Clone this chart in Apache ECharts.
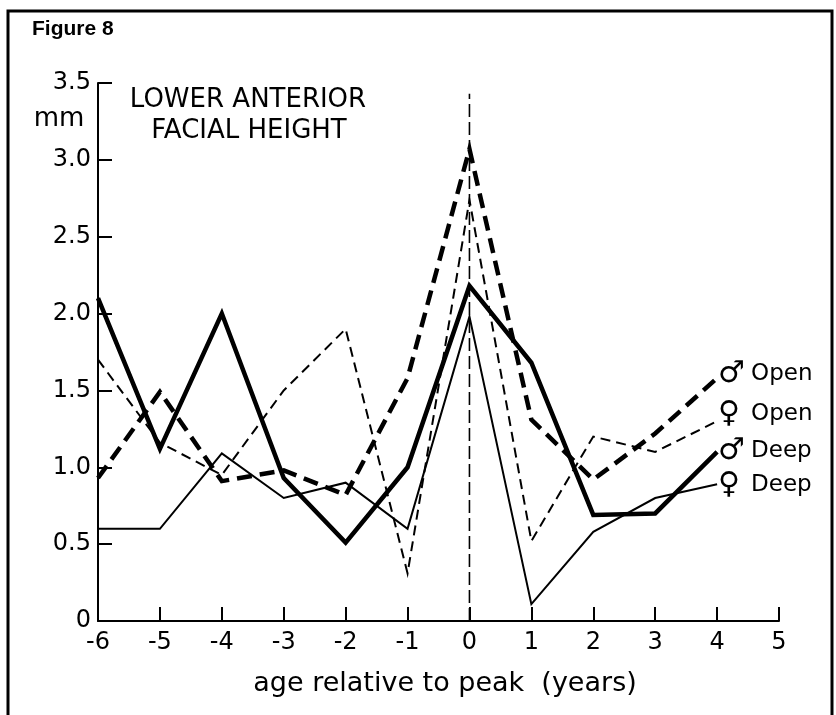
<!DOCTYPE html>
<html><head><meta charset="utf-8">
<script src="https://cdn.jsdelivr.net/npm/echarts@6/dist/echarts.min.js"></script>
<style>html,body{margin:0;padding:0;background:#fff}#c{width:836px;height:715px}</style>
</head><body><div id="c"></div>
<script>
// ---- data ----
const years = [-6, -5, -4, -3, -2, -1, 0, 1, 2, 3, 4];
const maleOpen   = [0.93, 1.49, 0.91, 0.98, 0.82, 1.58, 3.07, 1.31, 0.92, 1.22, 1.58];
const femaleOpen = [1.70, 1.16, 0.95, 1.50, 1.90, 0.31, 2.74, 0.52, 1.20, 1.10, 1.30];
const maleDeep   = [2.10, 1.12, 2.00, 0.93, 0.51, 1.00, 2.18, 1.68, 0.69, 0.70, 1.10];
const femaleDeep = [0.60, 0.60, 1.09, 0.80, 0.90, 0.60, 1.98, 0.11, 0.58, 0.80, 0.89];
const peakX = [0, 0];
const peakY = [0, 3.43];
const seriesLabels = [
  {sym: '\u2642', txt: 'Open', dy: -4},
  {sym: '\u2640', txt: 'Open', dy: -7},
  {sym: '\u2642', txt: 'Deep', dy: -1},
  {sym: '\u2640', txt: 'Deep', dy: 1}
];
const titleLines = ['LOWER ANTERIOR', 'FACIAL HEIGHT'];
const xTitle = 'age relative to peak  (years)';
const yUnit = 'mm';
const figLabel = 'Figure 8';

const F = '"DejaVu Sans", sans-serif';
const pairs = arr => years.map((x, i) => [x, arr[i]]);

const chart = echarts.init(document.getElementById('c'), null, {renderer: 'canvas'});

function mkLine(data, width, dash) {
  return {
    type: 'line', data: data, symbol: 'none', animation: false, silent: true,
    lineStyle: {color: '#000', width: width, type: dash || 'solid', cap: 'butt', join: 'miter'},
    z: 3
  };
}

const option = {
  backgroundColor: '#fff',
  animation: false,
  grid: {left: 98, right: 57, top: 83, bottom: 94, containLabel: false},
  xAxis: {
    type: 'value', min: -6, max: 5, interval: 1,
    axisLine: {show: true, onZero: false, lineStyle: {color: '#000', width: 2}},
    axisTick: {show: true, inside: true, length: 14, lineStyle: {color: '#000', width: 2}},
    axisLabel: {color: '#000', fontFamily: F, fontSize: 24, margin: 10,
      formatter: v => String(v)},
    splitLine: {show: false}
  },
  yAxis: {
    type: 'value', min: 0, max: 3.5, interval: 0.5,
    axisLine: {show: true, onZero: false, lineStyle: {color: '#000', width: 2}},
    axisTick: {show: true, inside: true, length: 14, lineStyle: {color: '#000', width: 2}},
    axisLabel: {color: '#000', fontFamily: F, fontSize: 24, margin: 7,
      formatter: v => v === 0 ? '0' : v.toFixed(1)},
    splitLine: {show: false}
  },
  series: [
    mkLine(peakX.map((x, i) => [x, peakY[i]]), 1.6, [13, 5]),
    mkLine(pairs(femaleDeep), 2, 'solid'),
    mkLine(pairs(femaleOpen), 2, [10, 6]),
    mkLine(pairs(maleDeep), 4.5, 'solid'),
    mkLine(pairs(maleOpen), 4.5, [15, 8])
  ],
  graphic: [
    {type: 'rect', shape: {x: 8, y: 11, width: 824, height: 730},
     style: {fill: 'none', stroke: '#000', lineWidth: 3}, silent: true},
    {type: 'text', left: 32, top: 19,
     style: {text: figLabel, font: 'bold 21px "Liberation Sans", Arial, sans-serif', fill: '#000'}},
    {type: 'text', x: 59, y: 119,
     style: {text: yUnit, font: '26px ' + F, fill: '#000', align: 'center', verticalAlign: 'middle'}},
    {type: 'text', x: 248, y: 100,
     style: {text: titleLines[0], font: '26px ' + F, fill: '#000', align: 'center', verticalAlign: 'middle'}},
    {type: 'text', x: 249, y: 131,
     style: {text: titleLines[1], font: '26px ' + F, fill: '#000', align: 'center', verticalAlign: 'middle'}},
    {type: 'text', x: 445, y: 684,
     style: {text: xTitle, font: '27px ' + F, fill: '#000', align: 'center', verticalAlign: 'middle'}}
  ]
};
chart.setOption(option);

// end-of-line labels placed from the data end points
const ends = [maleOpen, femaleOpen, maleDeep, femaleDeep].map(a => [years[years.length - 1], a[a.length - 1]]);
const extra = ends.map((pt, i) => {
  const p = chart.convertToPixel({gridIndex: 0}, pt);
  return {
    type: 'text', x: p[0] + 1, y: p[1] + seriesLabels[i].dy,
    style: {
      text: '{s|' + seriesLabels[i].sym + '}{t|' + seriesLabels[i].txt + '}',
      verticalAlign: 'middle', align: 'left', fill: '#000',
      rich: {
        s: {fontFamily: F, fontSize: 30, width: 33, fill: '#000'},
        t: {fontFamily: F, fontSize: 23, fill: '#000'}
      }
    }
  };
});
chart.setOption({graphic: option.graphic.concat(extra)});
</script>
</body></html>
